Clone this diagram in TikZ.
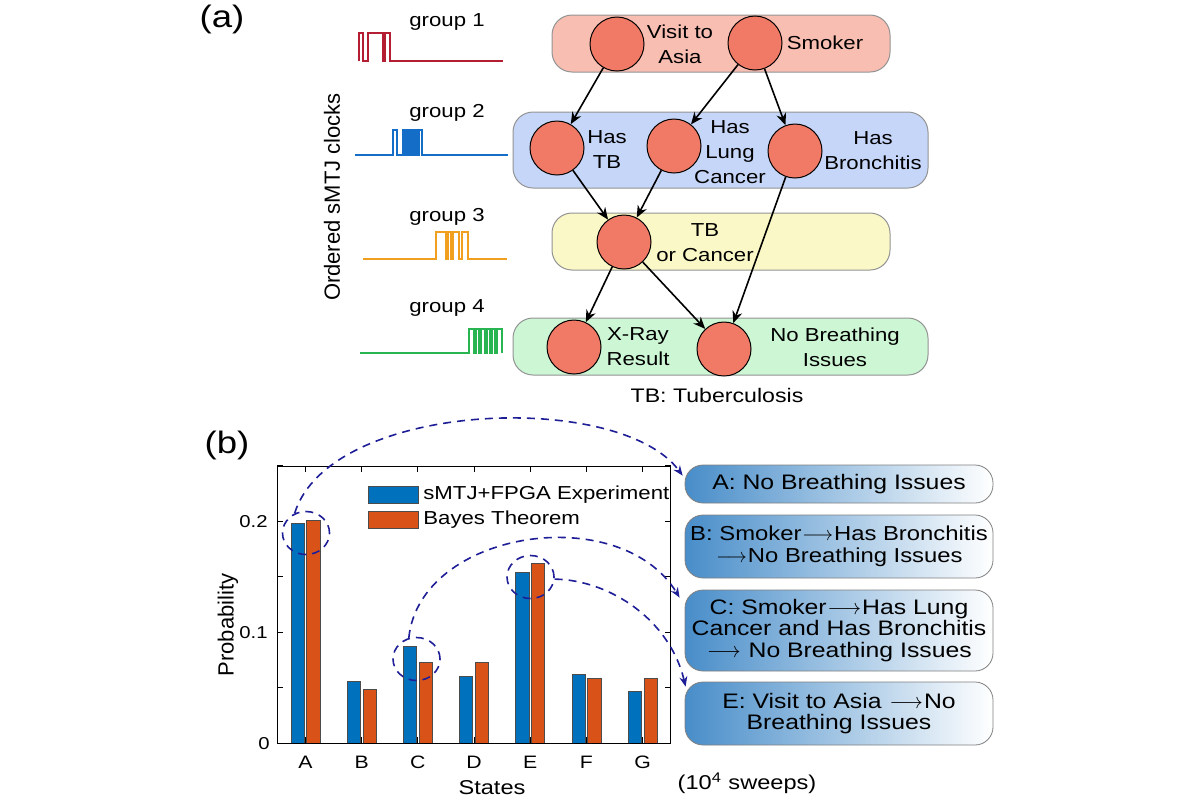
\documentclass[tikz,border=0pt]{standalone}
\usepackage{fontspec}
\usepackage{graphicx}
\setmainfont{Liberation Sans}[FakeStretch=1.18]
\newfontfamily\uprightlabel{Liberation Sans}
\usetikzlibrary{arrows.meta,shapes.geometric}

\definecolor{pinkgrp}{RGB}{249,190,178}
\definecolor{bluegrp}{RGB}{197,214,248}
\definecolor{yellowgrp}{RGB}{250,248,198}
\definecolor{greengrp}{RGB}{204,246,212}
\definecolor{nodefill}{RGB}{240,122,102}
\definecolor{clkred}{RGB}{180,30,50}
\definecolor{clkblue}{RGB}{20,110,200}
\definecolor{clkorange}{RGB}{240,160,30}
\definecolor{clkgreen}{RGB}{40,180,80}
\definecolor{barblue}{RGB}{0,114,189}
\definecolor{barred}{RGB}{217,83,25}
\definecolor{dashnavy}{RGB}{30,30,150}
\definecolor{boxblue}{RGB}{72,141,201}

\newcommand{\stateto}{\kern0.5pt\smash{\scalebox{0.95}[1]{$\longrightarrow$}}\kern0.5pt}

\begin{document}
\begin{tikzpicture}[x=0.5pt,y=-0.5pt,font=\fontsize{9.4}{12.5}\selectfont,
  grpbox/.style={draw=gray!85,rounded corners=10pt,line width=0.5pt},
  bnode/.style={circle,draw=black,fill=nodefill,minimum size=27pt,inner sep=0pt,line width=0.5pt},
  lbl/.style={align=center,inner sep=0pt},
  causal/.style={-{Stealth[length=6pt,width=5pt]},line width=0.8pt},
  clk/.style={line width=0.6pt},
  statebox/.style={draw=gray,rounded corners=9pt,left color=boxblue,right color=white,minimum width=154pt,inner sep=1pt,align=center,font=\fontsize{10.5}{10.8}\selectfont},
  hilite/.style={ellipse,draw=dashnavy,dash pattern=on 4pt off 3pt,line width=0.8pt,minimum width=23.5pt,minimum height=21.5pt,inner sep=0pt},
  link/.style={draw=dashnavy,dash pattern=on 4pt off 3pt,line width=0.8pt,-{Stealth[length=5pt,width=4pt]}},
  bar/.style={draw=black!70,line width=0.3pt}
]
\useasboundingbox (0,0) rectangle (1200,800);

% (a) network
\node[font=\fontsize{15.5}{16}\selectfont] (taga) at (222,19) {(a)};
\draw[grpbox,fill=pinkgrp] (552,15) rectangle (890,72);
\draw[grpbox,fill=bluegrp] (513,112) rectangle (928,188);
\draw[grpbox,fill=yellowgrp] (552,213) rectangle (890,270);
\draw[grpbox,fill=greengrp] (513,318) rectangle (928,375);

\node[bnode] (asia) at (617,44) {};
\node[bnode] (smoker) at (755,43) {};
\node[bnode] (tb) at (557,148) {};
\node[bnode] (lung) at (674,146) {};
\node[bnode] (bronch) at (795,151) {};
\node[bnode] (either) at (624,242) {};
\node[bnode] (xray) at (574,347) {};
\node[bnode] (dysp) at (724,349) {};

\node[lbl] (asiatext) at (680,44) {Visit to\\Asia};
\node[lbl] (smokertext) at (825,43) {Smoker};
\node[lbl] (tbtext) at (607,150) {Has\\TB};
\node[lbl] (lungtext) at (730,152) {Has\\Lung\\Cancer};
\node[lbl] (bronchtext) at (873,151) {Has\\Bronchitis};
\node[lbl] (eithertext) at (705,243) {TB\\or Cancer};
\node[lbl] (xraytext) at (638,347) {X-Ray\\Result};
\node[lbl] (dysptext) at (835,347) {No Breathing\\Issues};
\node[font=\fontsize{9.8}{12}\selectfont] (tbnote) at (717,395) {TB: Tuberculosis};

\draw[causal] (asia) -- (tb);
\draw[causal] (smoker) -- (lung);
\draw[causal] (smoker) -- (bronch);
\draw[causal] (tb) -- (either);
\draw[causal] (lung) -- (either);
\draw[causal] (bronch) -- (dysp);
\draw[causal] (either) -- (xray);
\draw[causal] (either) -- (dysp);

% clocks
\node[rotate=90,font=\uprightlabel\fontsize{11}{13}\selectfont] (clocks) at (332,197) {Ordered sMTJ clocks};
\node (grp1) at (447,22) {group 1};
\node (grp2) at (447,113) {group 2};
\node (grp3) at (447,217) {group 3};
\node (grp4) at (447,308) {group 4};
\draw[clk,clkred] (359,61) |- (363,33) |- (368,61) |- (383,33) |- (385,61) |- (390,33) |- (503,61);
\draw[clk,clkblue] (355,155) -| (393,130) -| (397,155) -| (403,130) -| (405,155) -| (407,130)
  -| (409,155) -| (411,130) -| (413,155) -| (415,130) -| (417,155) -| (419,130) -| (422,155) -- (508,155);
\draw[clk,clkorange] (363,259) -| (436,232) -| (446,259) -| (448,232) -| (451,259) -| (453,232)
  -| (459,259) -| (462,232) -| (468,259) -- (507,259);
\draw[clk,clkgreen] (360,353) -| (469,329) -| (474,353) -| (476,329) -| (479,353) -| (481,329)
  -| (485,353) -| (487,329) -| (490,353) -| (492,329) -| (495,353) -| (497,329) -| (502,353);

% (b) histogram
\node[font=\fontsize{15.5}{16}\selectfont] (tagb) at (227,445) {(b)};
\foreach \k/\lab/\vb/\vr in {1/A/0.198/0.201,2/B/0.056/0.0486,3/C/0.087/0.073,4/D/0.060/0.0726,
    5/E/0.154/0.162,6/F/0.0618/0.059,7/G/0.047/0.0585} {
  \pgfmathsetmacro{\cx}{277.3+(\k-0.5)*56.2}
  \draw[bar,fill=barblue] (\cx-14.5,743.3) rectangle (\cx-1.3,743.3-1110*\vb);
  \draw[bar,fill=barred] (\cx+1.3,743.3) rectangle (\cx+14.5,743.3-1110*\vr);
  \draw[line width=0.5pt] (\cx,466) -- ++(0,6);
  \draw[line width=0.5pt] (\cx,743.3) -- ++(0,-6);
  \node[font=\fontsize{9}{10}\selectfont] (cat\k) at (\cx,762) {\lab};
}
\foreach \t in {0,...,5} {
  \draw[line width=0.5pt] (277.3,743.3-55.5*\t) -- ++(6,0);
  \draw[line width=0.5pt] (670.7,743.3-55.5*\t) -- ++(-6,0);
}
\draw[line width=0.5pt] (277.3,466) rectangle (670.7,743.3);
\node[anchor=east,inner sep=0pt,font=\fontsize{8.6}{10}\selectfont] (y0) at (270,743.3) {0};
\node[anchor=east,inner sep=0pt,font=\fontsize{8.6}{10}\selectfont] (y1) at (268,632.3) {0.1};
\node[anchor=east,inner sep=0pt,font=\fontsize{8.6}{10}\selectfont] (y2) at (268,521.3) {0.2};
\node[rotate=90,font=\uprightlabel\fontsize{11}{13}\selectfont] (ylab) at (228,625) {Probability};
\node[font=\fontsize{10}{12}\selectfont] (xlab) at (492,788) {States};
\node[font=\fontsize{10}{12}\selectfont] (sweeps) at (747,783) {(10\textsuperscript{4} sweeps)};

% legend
\node[bar,fill=barblue,minimum width=25pt,minimum height=8.5pt,inner sep=0pt] (legexp) at (393,494.5) {};
\node[bar,fill=barred,minimum width=25pt,minimum height=8.5pt,inner sep=0pt] (legbayes) at (393,519.5) {};
\node[anchor=west,inner sep=0pt] (legexptext) at (423,495) {sMTJ+FPGA Experiment};
\node[anchor=west,inner sep=0pt] (legbayestext) at (423,520) {Bayes Theorem};

% highlighted states
\node[hilite] (hlA) at (306,533) {};
\node[hilite] (hlC) at (416.5,659) {};
\node[hilite] (hlE) at (530.5,577) {};

\node[statebox,minimum height=19pt] (stA) at (839,484) {A: No Breathing Issues};
\node[statebox,minimum height=31.5pt,font=\fontsize{10.1}{10.8}\selectfont] (stB) at (839,546.5) {B: Smoker\stateto Has Bronchitis\\\stateto No Breathing Issues};
\node[statebox,minimum height=40.5pt] (stC) at (839,630.5) {C: Smoker\stateto Has Lung\\Cancer and Has Bronchitis\\\stateto\ No Breathing Issues};
\node[statebox,minimum height=31.5pt] (stE) at (839,713.5) {E: Visit to Asia \stateto No\\Breathing Issues};

\draw[link] (hlA.120) .. controls (330,400) and (620,390) .. ([shift={(-1pt,-5.5pt)}]stA.north west);
\draw[link] (hlC.110) .. controls (420,530) and (620,500) .. ([shift={(-2.5pt,-4pt)}]stC.north west);
\draw[link] (hlE.-5) .. controls (610,580) and (670,620) .. ([shift={(0.5pt,-2.5pt)}]stE.north west);
\end{tikzpicture}
\end{document}
